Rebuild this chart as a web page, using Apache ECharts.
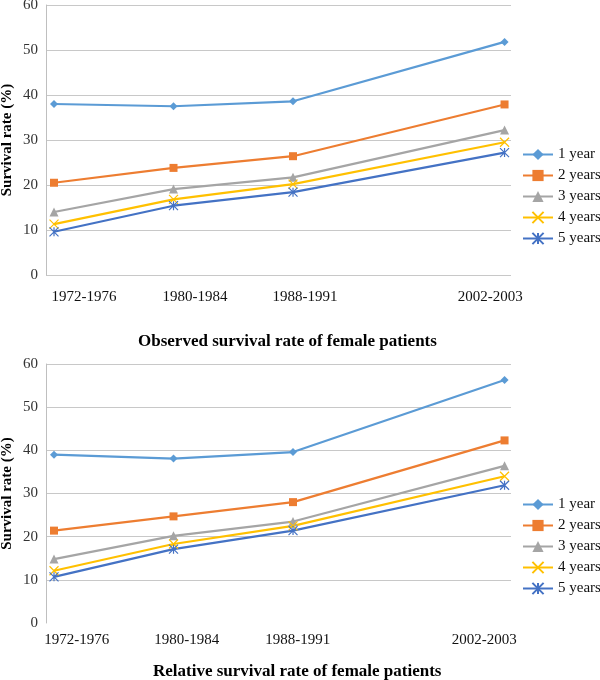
<!DOCTYPE html>
<html lang="en">
<head>
    <meta charset="UTF-8">
    <title>Female survival rate</title>
    <style>
        html, body { margin: 0; padding: 0; background: #fff; }
        #chart { width: 600px; height: 680px; }
    </style>
</head>
<body>
<div id="chart"></div>
<script src="https://cdn.jsdelivr.net/npm/echarts@6/dist/echarts.min.js"></script>
<script type="text/javascript">
    // periods and where they sit on the x axis
    var periods = ['1972-1976', '1980-1984', '1988-1991', '2002-2003'];
    var periodX = [0, 1, 2, 3.77];
    var yTicks = [0, 10, 20, 30, 40, 50, 60];
    var seriesNames = ['1 year', '2 years', '3 years', '4 years', '5 years'];

    // observed survival rate (%)
    var obs1 = [38.0, 37.5, 38.6, 51.8];
    var obs2 = [20.5, 23.8, 26.4, 37.9];
    var obs3 = [14.0, 19.1, 21.7, 32.2];
    var obs4 = [11.3, 16.8, 20.2, 29.5];
    var obs5 = [9.6, 15.4, 18.4, 27.2];

    // relative survival rate (%)
    var rel1 = [39.0, 38.1, 39.6, 56.3];
    var rel2 = [21.4, 24.7, 28.0, 42.3];
    var rel3 = [14.8, 20.2, 23.5, 36.4];
    var rel4 = [12.1, 18.3, 22.5, 34.0];
    var rel5 = [10.7, 17.1, 21.4, 31.9];

    var colors = ['#5B9BD5', '#ED7D31', '#A5A5A5', '#FFC000', '#4472C4'];
    var symbols = [
        'diamond',
        'rect',
        'triangle',
        'path://M0,0L10,10M10,0L0,10',
        'path://M0,0L10,10M10,0L0,10M5,0L5,10'
    ];
    var symbolSizes = [8, 8, 9, 9, 9];
    var serif = '"Liberation Serif", "Times New Roman", serif';

    // label centres differ a bit from the points (text boxes in the original)
    var topLabelX = [0.25, 1.18, 2.10, 3.65];
    var botLabelX = [0.19, 1.11, 2.04, 3.60];

    function xAxisFor(idx, labelX, margin) {
        return {
            type: 'value',
            gridIndex: idx,
            min: -0.067,
            max: 3.824,
            axisLine: {show: false},
            axisTick: {show: false},
            splitLine: {show: false},
            axisLabel: {
                customValues: labelX,
                margin: margin,
                fontFamily: serif,
                fontSize: 15,
                color: '#111',
                formatter: function (v) {
                    var best = 0;
                    for (var i = 0; i < labelX.length; i++) {
                        if (Math.abs(labelX[i] - v) < Math.abs(labelX[best] - v)) best = i;
                    }
                    return periods[best];
                }
            }
        };
    }

    function yAxisFor(idx, showMin) {
        return {
            type: 'value',
            gridIndex: idx,
            min: yTicks[0],
            max: yTicks[yTicks.length - 1],
            interval: 10,
            name: 'Survival rate (%)',
            nameLocation: 'middle',
            nameGap: 31,
            nameMoveOverlap: false,
            nameTextStyle: {fontFamily: serif, fontSize: 15, fontWeight: 'bold', color: '#000'},
            axisLine: {show: true, onZero: false, lineStyle: {color: '#bfbfbf', width: 1}},
            axisTick: {show: false},
            axisLabel: {fontFamily: serif, fontSize: 15, color: '#333', margin: 8},
            splitLine: {show: true, showMinLine: showMin, lineStyle: {color: '#c8c8c8', width: 1}}
        };
    }

    function makeSeries(name, vals, k, idx) {
        return {
            name: name,
            type: 'line',
            xAxisIndex: idx,
            yAxisIndex: idx,
            data: periodX.map(function (x, i) { return [x, vals[i]]; }),
            symbol: symbols[k],
            symbolSize: symbolSizes[k],
            showAllSymbol: true,
            lineStyle: {color: colors[k], width: 2.2},
            itemStyle: {color: colors[k], borderColor: colors[k], borderWidth: k >= 3 ? 1.2 : 0},
            emphasis: {disabled: true}
        };
    }

    var obsData = [obs1, obs2, obs3, obs4, obs5];
    var relData = [rel1, rel2, rel3, rel4, rel5];
    var series = [];
    seriesNames.forEach(function (n, k) { series.push(makeSeries(n, obsData[k], k, 0)); });
    seriesNames.forEach(function (n, k) { series.push(makeSeries(n, relData[k], k, 1)); });

    function legendAt(top) {
        return {
            orient: 'vertical',
            left: 522,
            top: top,
            padding: 0,
            itemWidth: 30,
            itemHeight: 14,
            itemGap: 6,
            textStyle: {fontFamily: serif, fontSize: 15, color: '#111'},
            data: seriesNames
        };
    }

    var chart = echarts.init(document.getElementById('chart'), null, {renderer: 'canvas'});
    chart.setOption({
        animation: false,
        color: colors,
        title: [
            {
                text: 'Observed survival rate of female patients',
                left: 133, top: 328,
                textStyle: {fontFamily: serif, fontSize: 17, fontWeight: 'bold', color: '#000'}
            },
            {
                text: 'Relative survival rate of female patients',
                left: 148, top: 658,
                textStyle: {fontFamily: serif, fontSize: 17, fontWeight: 'bold', color: '#000'}
            }
        ],
        legend: [legendAt(147), legendAt(497)],
        grid: [
            {left: 46, top: 5, width: 465, height: 270, outerBoundsMode: 'none'},
            {left: 46, top: 364, width: 465, height: 259, outerBoundsMode: 'none'}
        ],
        xAxis: [xAxisFor(0, topLabelX, 15), xAxisFor(1, botLabelX, 10)],
        yAxis: [yAxisFor(0, true), yAxisFor(1, false)],
        series: series
    });
</script>
</body>
</html>
